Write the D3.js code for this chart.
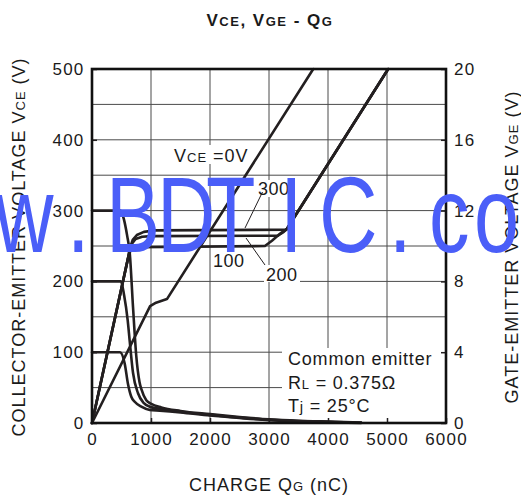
<!DOCTYPE html>
<html>
<head>
<meta charset="utf-8">
<script src="https://cdn.jsdelivr.net/npm/d3@7"></script>
<style>
body { margin: 0; background: #fff; }
text { font-family: "Liberation Sans", Arial, Helvetica, sans-serif; fill: #1a1a1a; }
</style>
</head>
<body>
<div id="chart"></div>
<script>
// gate charge QG (nC) vs VCE (V), left axis
var vce100 = [[0,100],[475,100],[554,84],[610,55],[666,37],[724,30],[836,23],[978,18.5],[1150,17.5],[1500,15],[2000,10.5],[2500,7],[3000,4],[3500,2.4],[4000,1.2],[4560,0]];
var vce200 = [[0,200],[490,200],[545,180],[605,145],[640,115],[695,71],[780,42],[880,28],[980,23],[1150,20],[1500,16],[2000,11.5],[2500,7.8],[3000,4.6],[3500,2.8],[4000,1.6],[4560,0.4]];
var vce300 = [[0,300],[480,300],[540,288],[595,265],[640,240],[695,164],[750,95],[805,58],[840,47],[920,32],[1005,27],[1175,22],[1500,17],[2000,12.5],[2500,8.5],[3000,5.2],[3500,3.2],[4000,2],[4560,0.8]];

// QG (nC) vs VGE (V), right axis
var vge0   = [[0,0],[985,6.6],[1085,6.8],[1270,7.0],[3750,20]];
var vge100 = [[0,0],[610,9.3],[640,9.65],[680,9.85],[740,9.93],[2930,10.0],[3050,10.3],[3190,10.7],[3300,10.95],[5020,20]];
var vge200 = [[0,0],[610,9.3],[640,9.8],[680,10.15],[740,10.4],[850,10.52],[1000,10.56],[3150,10.58],[3250,10.8],[3300,10.95],[5020,20]];
var vge300 = [[0,0],[610,9.3],[640,9.85],[690,10.35],[760,10.62],[880,10.8],[1050,10.88],[3280,10.92],[3300,10.95],[5020,20]];

var xTicks = [0,1000,2000,3000,4000,5000,6000];
var leftTicks = [0,100,200,300,400,500];
var rightTicks = [0,4,8,12,16,20];

var width = 521, height = 499;
var ink = "#231f20";

var svg = d3.select("#chart").append("svg")
    .attr("width", width)
    .attr("height", height)
    .style("display", "block");

svg.append("rect").attr("width", width).attr("height", height).attr("fill", "#fff");

var x = d3.scaleLinear().domain([0, 6000]).range([92, 446]);
var yL = d3.scaleLinear().domain([0, 500]).range([423, 69]);
var yR = d3.scaleLinear().domain([0, 20]).range([423, 69]);

// grid
var grid = svg.append("g").attr("stroke", "#4a4a4a").attr("stroke-width", 1);
grid.selectAll(".gx").data(xTicks.slice(1, -1)).enter().append("line")
    .attr("x1", function(d) { return x(d); }).attr("x2", function(d) { return x(d); })
    .attr("y1", yL(0)).attr("y2", yL(500));
grid.selectAll(".gy").data(yL.ticks(10).slice(1, -1)).enter().append("line")
    .attr("x1", x(0)).attr("x2", x(6000))
    .attr("y1", function(d) { return yL(d); }).attr("y2", function(d) { return yL(d); });

// white box behind the conditions note
svg.append("rect").attr("x", 282).attr("y", 348).attr("width", 164).attr("height", 75).attr("fill", "#fff");

// curves
var lineL = d3.line().x(function(d) { return x(d[0]); }).y(function(d) { return yL(d[1]); }).curve(d3.curveMonotoneX);
var lineR = d3.line().x(function(d) { return x(d[0]); }).y(function(d) { return yR(d[1]); });

var curves = svg.append("g").attr("fill", "none").attr("stroke", ink)
    .attr("stroke-width", 2.6).attr("stroke-linejoin", "round").attr("stroke-linecap", "round");
[vce100, vce200, vce300].forEach(function(s) { curves.append("path").attr("d", lineL(s)); });
[vge0, vge100, vge200, vge300].forEach(function(s) { curves.append("path").attr("d", lineR(s)); });

// helper for text with small-caps subscripts
function label(g, px, py, parts, opts) {
    opts = opts || {};
    var t = g.append("text").attr("x", px).attr("y", py)
        .attr("letter-spacing", opts.ls == null ? 1 : opts.ls)
        .style("font-weight", opts.bold ? "bold" : null)
        .attr("text-anchor", opts.anchor || "start");
    if (opts.rotate) t.attr("transform", "rotate(-90," + px + "," + py + ")");
    parts.forEach(function(p) {
        t.append("tspan").attr("font-size", p[1] + "px").text(p[0]);
    });
    return t;
}

var notes = svg.append("g");
// white patches behind curve labels
[[172,145,78,19],[256,180,34,17],[264,265,36,17]].forEach(function(r) {
    notes.append("rect").attr("x", r[0]).attr("y", r[1]).attr("width", r[2]).attr("height", r[3]).attr("fill", "#fff");
});
label(notes, 174, 161.5, [["V",18],["CE",13],[" =0V",18]]);
label(notes, 258, 195, [["300",18]], {ls: 0.5});
label(notes, 266, 280.5, [["200",18]], {ls: 0.5});
label(notes, 213, 266.5, [["100",18]], {ls: 0.5});
notes.append("line").attr("x1", 262.5).attr("y1", 192).attr("x2", 245).attr("y2", 228).attr("stroke", ink).attr("stroke-width", 1);
notes.append("line").attr("x1", 246).attr("y1", 238).attr("x2", 265).attr("y2", 265).attr("stroke", ink).attr("stroke-width", 1);

label(notes, 288, 365, [["Common emitter",18]], {ls: 0.8});
label(notes, 288, 388.5, [["R",18],["L",13],[" = 0.375\u03A9",18]], {ls: 0.8});
label(notes, 288, 411.5, [["T",18],["j",15],[" = 25\u00B0C",18]], {ls: 0.8});

// axes with inward ticks
function styleAxis(g) {
    g.select(".domain").remove();
    g.selectAll(".tick line").attr("stroke", ink).attr("stroke-width", 1.5);
    g.selectAll("text").attr("font-size", "17px").attr("letter-spacing", 1.2)
        .attr("font-family", "'Liberation Sans', Arial, Helvetica, sans-serif").attr("fill", "#1a1a1a");
}
svg.append("g").attr("transform", "translate(92,0)")
    .call(d3.axisLeft(yL).tickValues(leftTicks).tickSizeInner(-5).tickSizeOuter(0).tickPadding(7.5).tickFormat(function(d) { return d; }))
    .call(styleAxis);
svg.append("g").attr("transform", "translate(446,0)")
    .call(d3.axisRight(yR).tickValues(rightTicks).tickSizeInner(-5).tickSizeOuter(0).tickPadding(8).tickFormat(function(d) { return d; }))
    .call(styleAxis);
svg.append("g").attr("transform", "translate(0,423)")
    .call(d3.axisBottom(x).tickValues(xTicks).tickSizeInner(-5).tickSizeOuter(0).tickPadding(10).tickFormat(function(d) { return d; }))
    .call(styleAxis);

// frame
svg.append("rect").attr("x", x(0)).attr("y", yL(500))
    .attr("width", x(6000) - x(0)).attr("height", yL(0) - yL(500))
    .attr("fill", "none").attr("stroke", "#111").attr("stroke-width", 2.6);

// titles
var titles = svg.append("g");
label(titles, 270, 26, [["V",17],["CE",13],[", V",17],["GE",13],[" - Q",17],["G",13]], {bold: true, anchor: "middle", ls: 1.5});
label(titles, 269, 490.5, [["CHARGE  Q",18],["G",13],[" (nC)",18]], {anchor: "middle"});
label(titles, 25, 247, [["COLLECTOR-EMITTER VOLTAGE  V",18],["CE",13],[" (V)",18]], {anchor: "middle", rotate: true});
label(titles, 518, 247, [["GATE-EMITTER VOLTAGE  V",18],["GE",13],[" (V)",18]], {anchor: "middle", rotate: true});

// watermark over the plot
var wmChars = ["w","w","w",".","B","D","T","I","C",".","c","o","m"];
var wmX = [-121,-63,-5,67,106,157,206,280,319,389,429,474,520];
var sx = 0.75;
svg.append("g").attr("transform", "scale(" + sx + ",1)")
  .append("text")
    .attr("x", wmX.map(function(v) { return (v / sx).toFixed(1); }).join(" "))
    .attr("y", 252)
    .attr("font-size", "108px")
    .style("fill", "#4a5ef8")
    .text(wmChars.join(""));
</script>
</body>
</html>
